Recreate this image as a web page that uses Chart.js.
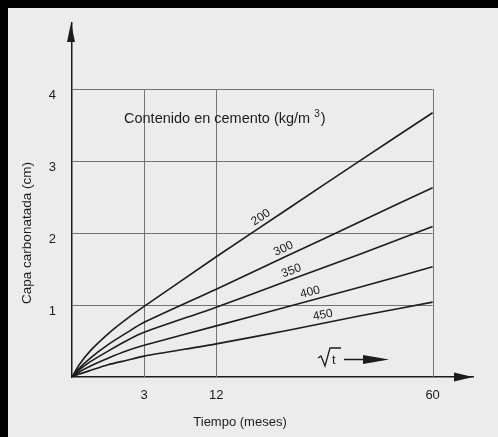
<!DOCTYPE html>
<html>
<head>
<meta charset="utf-8">
<script src="https://cdn.jsdelivr.net/npm/chart.js@4/dist/chart.umd.min.js"></script>
<style>
  html, body { margin: 0; padding: 0; background: #ececec; }
  #wrap { width: 498px; height: 437px; position: relative; }
</style>
</head>
<body>
<div id="wrap"><canvas id="c" width="498" height="437"></canvas></div>
<script>
// Eje de tiempo en escala √t (unidades de la retícula) y marcas rotuladas en meses
const ejeRaizT = [0, 0.1, 0.25, 0.5, 0.75, 1, 2, 3, 4, 5];
const marcasEje = [1, 2, 5];
const marcasMeses = ['3', '12', '60'];
const marcasCapa = [1, 2, 3, 4];

// Contenido en cemento (kg/m3) de cada curva
const contenidos = ['200', '300', '350', '400', '450'];

// Capa carbonatada (cm)
const capa200 = [0, 0.17, 0.36, 0.60, 0.80, 0.98, 1.67, 2.34, 3.01, 3.67];
const capa300 = [0, 0.12, 0.26, 0.45, 0.61, 0.76, 1.22, 1.69, 2.16, 2.63];
const capa350 = [0, 0.10, 0.21, 0.36, 0.50, 0.62, 0.97, 1.34, 1.71, 2.09];
const capa400 = [0, 0.07, 0.15, 0.26, 0.36, 0.44, 0.71, 0.98, 1.25, 1.53];
const capa450 = [0, 0.04, 0.09, 0.17, 0.23, 0.29, 0.46, 0.65, 0.85, 1.04];
const series = [capa200, capa300, capa350, capa400, capa450];

// punto del eje √t donde se rotula cada curva
const rotuloEn = [2.68, 2.98, 3.08, 3.33, 3.5];

const FONT = '"Liberation Sans", Arial, Helvetica, sans-serif';
const INK = '#1c1c1c';

const datasets = series.map((vals, i) => ({
  label: contenidos[i],
  data: vals.map((v, k) => ({ x: ejeRaizT[k], y: v })),
  borderColor: INK,
  borderWidth: 1.6,
  pointRadius: 0,
  fill: false,
  tension: 0.25
}));

function valorEn(vals, x) {
  for (let k = 1; k < ejeRaizT.length; k++) {
    if (x <= ejeRaizT[k]) {
      const x0 = ejeRaizT[k - 1], x1 = ejeRaizT[k];
      const t = (x - x0) / (x1 - x0);
      return { y: vals[k - 1] + t * (vals[k] - vals[k - 1]), k };
    }
  }
  return { y: vals[vals.length - 1], k: vals.length - 1 };
}

const lamina = {
  id: 'lamina',
  beforeDraw(chart) {
    const ctx = chart.ctx;
    ctx.save();
    ctx.fillStyle = '#ececec';
    ctx.fillRect(0, 0, chart.width, chart.height);
    // marco negro superior e izquierdo
    ctx.fillStyle = '#000';
    ctx.fillRect(0, 0, chart.width, 8);
    ctx.fillRect(0, 0, 8, chart.height);
    ctx.restore();
  },
  beforeDatasetsDraw(chart) {
    const { ctx, scales: { x, y } } = chart;
    const x0 = x.getPixelForValue(0), x1 = x.getPixelForValue(marcasEje[marcasEje.length - 1]);
    const y0 = y.getPixelForValue(0), y1 = y.getPixelForValue(marcasCapa[marcasCapa.length - 1]);
    ctx.save();
    ctx.strokeStyle = '#737373';
    ctx.lineWidth = 1;
    ctx.beginPath();
    marcasCapa.forEach(v => {
      const py = Math.round(y.getPixelForValue(v)) + 0.5;
      ctx.moveTo(x0, py); ctx.lineTo(x1, py);
    });
    marcasEje.forEach(v => {
      const px = Math.round(x.getPixelForValue(v)) + 0.5;
      ctx.moveTo(px, y0); ctx.lineTo(px, y1);
    });
    ctx.stroke();
    ctx.restore();
  },
  afterDatasetsDraw(chart) {
    const { ctx, chartArea: a, scales: { x, y } } = chart;
    ctx.save();
    ctx.fillStyle = INK;
    ctx.strokeStyle = INK;

    // flechas de los ejes
    ctx.beginPath();
    ctx.moveTo(a.left - 1, a.top);
    ctx.lineTo(a.left - 5, a.top + 19);
    ctx.lineTo(a.left + 3, a.top + 19);
    ctx.closePath();
    ctx.fill();
    ctx.beginPath();
    ctx.moveTo(a.right, a.bottom);
    ctx.lineTo(a.right - 19, a.bottom - 4.5);
    ctx.lineTo(a.right - 19, a.bottom + 4.5);
    ctx.closePath();
    ctx.fill();

    // rótulos de cada curva
    ctx.font = '12px ' + FONT;
    ctx.textAlign = 'center';
    ctx.textBaseline = 'middle';
    series.forEach((vals, i) => {
      const xv = rotuloEn[i];
      const r = valorEn(vals, xv);
      const pA = { x: x.getPixelForValue(ejeRaizT[r.k - 1]), y: y.getPixelForValue(vals[r.k - 1]) };
      const pB = { x: x.getPixelForValue(ejeRaizT[r.k]), y: y.getPixelForValue(vals[r.k]) };
      const ang = Math.atan2(pB.y - pA.y, pB.x - pA.x);
      const px = x.getPixelForValue(xv), py = y.getPixelForValue(r.y);
      ctx.save();
      ctx.translate(px, py);
      ctx.rotate(ang);
      ctx.fillText(contenidos[i], 0, -8);
      ctx.restore();
    });

    // título de las curvas
    ctx.textAlign = 'left';
    ctx.textBaseline = 'alphabetic';
    ctx.font = '14.5px ' + FONT;
    const t1 = 'Contenido en cemento (kg/m';
    const tx = 124, ty = 123;
    ctx.fillText(t1, tx, ty);
    let w = ctx.measureText(t1).width + 4;
    ctx.font = '10px ' + FONT;
    ctx.fillText('3', tx + w, ty - 6);
    w += ctx.measureText('3').width + 1;
    ctx.font = '14.5px ' + FONT;
    ctx.fillText(')', tx + w, ty);

    // indicación √t →
    ctx.lineWidth = 1.3;
    ctx.beginPath();
    ctx.moveTo(318, 358);
    ctx.lineTo(321, 356);
    ctx.lineTo(325, 366);
    ctx.lineTo(330, 348);
    ctx.lineTo(341, 348);
    ctx.stroke();
    ctx.font = '13px ' + FONT;
    ctx.fillText('t', 332, 364);
    ctx.lineWidth = 1.5;
    ctx.beginPath();
    ctx.moveTo(344, 359.5);
    ctx.lineTo(366, 359.5);
    ctx.stroke();
    ctx.beginPath();
    ctx.moveTo(389, 359.5);
    ctx.lineTo(363, 355);
    ctx.lineTo(363, 364);
    ctx.closePath();
    ctx.fill();

    // títulos de los ejes
    ctx.font = '13px ' + FONT;
    ctx.textAlign = 'center';
    ctx.textBaseline = 'middle';
    ctx.fillText('Tiempo (meses)', 240, 422);
    ctx.save();
    ctx.translate(27, 233);
    ctx.rotate(-Math.PI / 2);
    ctx.font = '13.5px ' + FONT;
    ctx.fillText('Capa carbonatada (cm)', 0, 0);
    ctx.restore();

    ctx.restore();
  }
};

new Chart(document.getElementById('c'), {
  type: 'line',
  data: { datasets },
  options: {
    responsive: false,
    animation: false,
    devicePixelRatio: 1,
    layout: { padding: { top: 23, right: 25, left: 0, bottom: 0 } },
    plugins: { legend: { display: false }, tooltip: { enabled: false } },
    scales: {
      x: {
        type: 'linear',
        min: 0,
        max: 5.56,
        grid: { display: false },
        border: { display: true, color: INK, width: 1.5 },
        afterBuildTicks: s => { s.ticks = marcasEje.map(v => ({ value: v })); },
        afterFit: s => { s.height = 60; },
        ticks: {
          padding: 3,
          color: INK,
          font: { family: FONT, size: 13 },
          callback: v => marcasMeses[marcasEje.indexOf(v)]
        }
      },
      y: {
        type: 'linear',
        min: 0,
        max: 4.917,
        grid: { display: false },
        border: { display: true, color: INK, width: 1.5 },
        afterBuildTicks: s => { s.ticks = marcasCapa.map(v => ({ value: v })); },
        afterFit: s => { s.width = 72; },
        ticks: {
          padding: 8,
          labelOffset: 6,
          color: INK,
          font: { family: FONT, size: 13 },
          callback: v => String(v)
        }
      }
    }
  },
  plugins: [lamina]
});
</script>
</body>
</html>
